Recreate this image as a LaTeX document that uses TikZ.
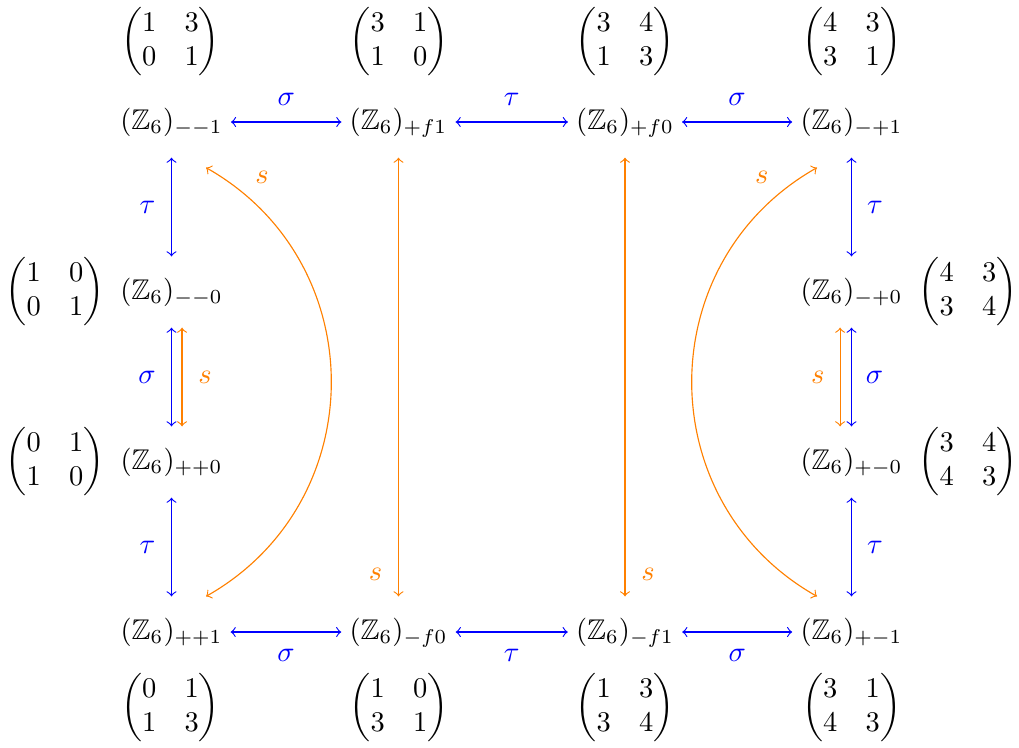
\documentclass[tikz,border=0pt]{standalone}
\usepackage{amsmath,amssymb}
\begin{document}
\begin{tikzpicture}[x=0.351pt, y=-0.351pt,
  zn/.style={minimum height=24.6pt, text height=7.5pt, text depth=2.5pt, inner ysep=3.33pt, inner xsep=2.7pt},
  mat/.style={inner sep=0pt},
  ab/.style={blue, <->},
  ao/.style={orange, <->},
  lab/.style={midway, inner sep=0pt}]
\useasboundingbox (0,0) rectangle (1019,747);
% group nodes
\node[zn] (a1) at (171.5,122) {$(\mathbb{Z}_6)_{--1}$};
\node[zn] (a2) at (398.5,122) {$(\mathbb{Z}_6)_{+f1}$};
\node[zn] (a3) at (625,122) {$(\mathbb{Z}_6)_{+f0}$};
\node[zn] (a4) at (851.5,122) {$(\mathbb{Z}_6)_{-+1}$};
\node[zn] (l2) at (171.5,292) {$(\mathbb{Z}_6)_{--0}$};
\node[zn] (l3) at (171.5,462) {$(\mathbb{Z}_6)_{++0}$};
\node[zn] (r2) at (851.5,292) {$(\mathbb{Z}_6)_{-+0}$};
\node[zn] (r3) at (851.5,462) {$(\mathbb{Z}_6)_{+-0}$};
\node[zn] (b1) at (171.5,632) {$(\mathbb{Z}_6)_{++1}$};
\node[zn] (b2) at (398.5,632) {$(\mathbb{Z}_6)_{-f0}$};
\node[zn] (b3) at (625,632) {$(\mathbb{Z}_6)_{-f1}$};
\node[zn] (b4) at (851.5,632) {$(\mathbb{Z}_6)_{+-1}$};
% matrices
\node[mat] (ma1) at (170.5,42) {$\begin{pmatrix}1&3\\0&1\end{pmatrix}$};
\node[mat] (ma2) at (399,42) {$\begin{pmatrix}3&1\\1&0\end{pmatrix}$};
\node[mat] (ma3) at (625,42) {$\begin{pmatrix}3&4\\1&3\end{pmatrix}$};
\node[mat] (ma4) at (851.5,42) {$\begin{pmatrix}4&3\\3&1\end{pmatrix}$};
\node[mat] (ml2) at (55,292) {$\begin{pmatrix}1&0\\0&1\end{pmatrix}$};
\node[mat] (ml3) at (55,462) {$\begin{pmatrix}0&1\\1&0\end{pmatrix}$};
\node[mat] (mr2) at (968,292) {$\begin{pmatrix}4&3\\3&4\end{pmatrix}$};
\node[mat] (mr3) at (968,462) {$\begin{pmatrix}3&4\\4&3\end{pmatrix}$};
\node[mat] (mb1) at (170.5,708) {$\begin{pmatrix}0&1\\1&3\end{pmatrix}$};
\node[mat] (mb2) at (399,708) {$\begin{pmatrix}1&0\\3&1\end{pmatrix}$};
\node[mat] (mb3) at (625,708) {$\begin{pmatrix}1&3\\3&4\end{pmatrix}$};
\node[mat] (mb4) at (851.5,708) {$\begin{pmatrix}3&1\\4&3\end{pmatrix}$};
% top row
\draw[ab] (a1) -- (a2) node[lab, yshift=8.1pt] {$\sigma$};
\draw[ab] (a2) -- (a3) node[lab, yshift=8.1pt] {$\tau$};
\draw[ab] (a3) -- (a4) node[lab, yshift=8.1pt] {$\sigma$};
% bottom row
\draw[ab] (b1) -- (b2) node[lab, yshift=-8.1pt] {$\sigma$};
\draw[ab] (b2) -- (b3) node[lab, yshift=-8.1pt] {$\tau$};
\draw[ab] (b3) -- (b4) node[lab, yshift=-8.1pt] {$\sigma$};
% left column
\draw[ab] (a1) -- (l2) node[lab, xshift=-8.4pt] {$\tau$};
\draw[ab] (l2) -- (l3) node[lab, xshift=-8.6pt] {$\sigma$};
\draw[ao] ([xshift=3.7pt]l2.south) -- ([xshift=3.7pt]l3.north) node[lab, xshift=8.1pt] {$s$};
\draw[ab] (l3) -- (b1) node[lab, xshift=-8.4pt] {$\tau$};
% right column
\draw[ab] (a4) -- (r2) node[lab, xshift=8.2pt] {$\tau$};
\draw[ab] (r2) -- (r3) node[lab, xshift=8.1pt] {$\sigma$};
\draw[ao] ([xshift=-4pt]r2.south) -- ([xshift=-4pt]r3.north) node[lab, xshift=-7.8pt] {$s$};
\draw[ab] (r3) -- (b4) node[lab, xshift=8.2pt] {$\tau$};
% middle verticals
\draw[ao] (a2) -- (b2) node[lab, pos=0.95, xshift=-8.1pt] {$s$};
\draw[ao] (a3) -- (b3) node[lab, pos=0.95, xshift=8.1pt] {$s$};
% curves
\draw[ao] ([shift={(34.5,10)}]a1.south) .. controls +(166.7,94.6) and +(166.7,-94.6) .. ([shift={(34.5,0)}]b1.north)
  node[lab, pos=0.06, xshift=9.8pt, yshift=3pt] {$s$};
\draw[ao] ([shift={(-34.5,10)}]a4.south) .. controls +(-166.7,94.6) and +(-166.7,-94.6) .. ([shift={(-34.5,0)}]b4.north)
  node[lab, pos=0.06, xshift=-9.5pt, yshift=3pt] {$s$};
\end{tikzpicture}
\end{document}
